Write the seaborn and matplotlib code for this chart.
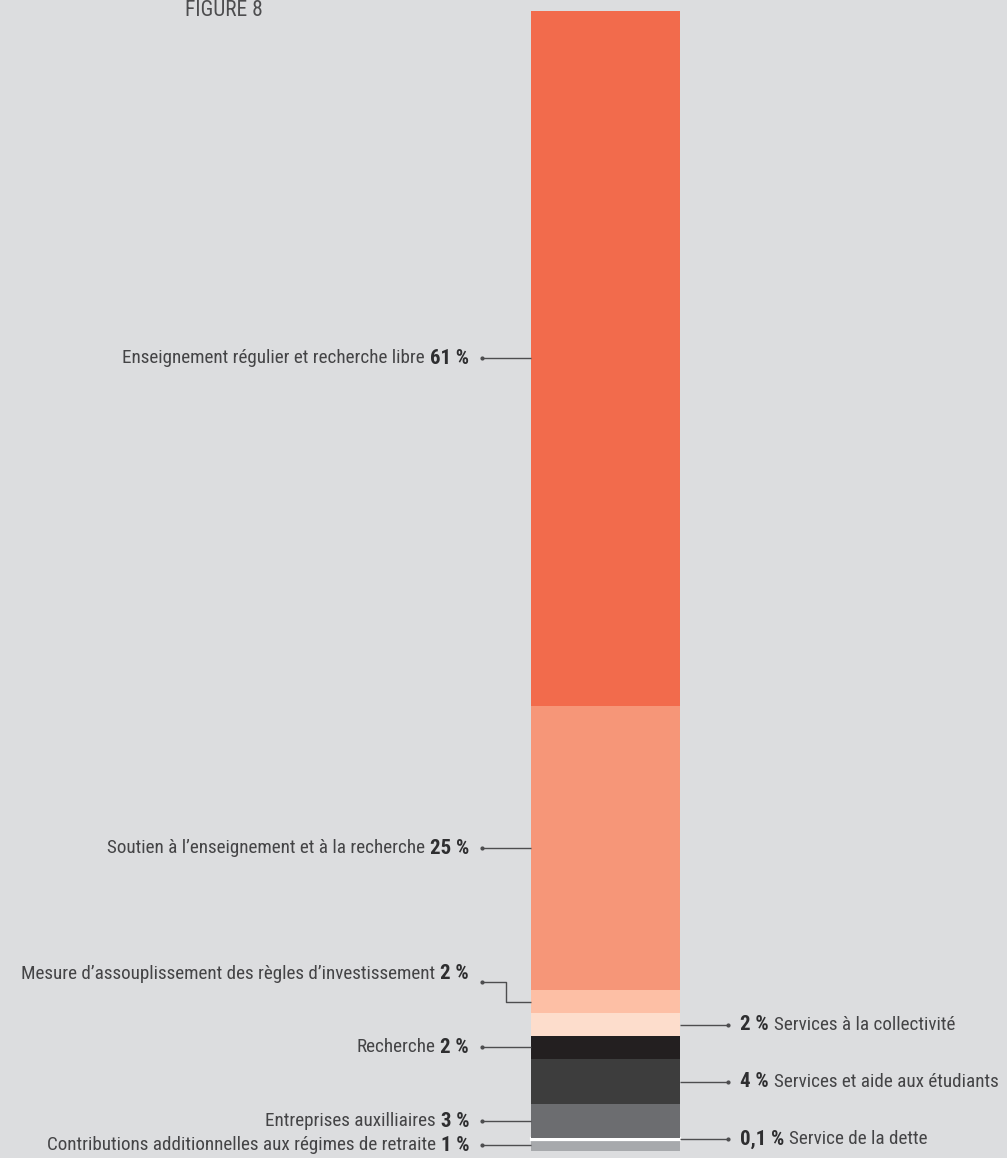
import numpy as np
import pandas as pd
import seaborn as sns
import matplotlib.pyplot as plt
from matplotlib import font_manager

# Segments of the stacked bar, listed from top to bottom
categories = [
    "Enseignement régulier et recherche libre",
    "Soutien à l\u2019enseignement et à la recherche",
    "Mesure d\u2019assouplissement des règles d\u2019investissement",
    "Services à la collectivité",
    "Recherche",
    "Services et aide aux étudiants",
    "Entreprises auxilliaires",
    "Service de la dette",
    "Contributions additionnelles aux régimes de retraite",
]
values = [61, 25, 2, 2, 2, 4, 3, 0.1, 1]
value_labels = ["61 %", "25 %", "2 %", "2 %", "2 %", "4 %", "3 %", "0,1 %", "1 %"]
sides = ["left", "left", "left", "right", "left", "right", "left", "right", "left"]
colors = ["#F26B4C", "#F69678", "#FDBFA5", "#FDDDCC", "#231F20",
          "#3D3D3D", "#6C6D70", "#FFFFFF", "#A7A9AC"]

BG = "#DCDDDF"
TXT = "#444446"
LINE = "#4D4D4F"

sns.set_theme(style="white")
avail = {f.name for f in font_manager.fontManager.ttflist}
fam = [f for f in ["Roboto Condensed", "Liberation Sans Narrow"] if f in avail] + ["DejaVu Sans"]
plt.rcParams["font.family"] = fam
STRETCH = "normal" if fam[0] != "DejaVu Sans" else "condensed"

W, H = 1007, 1158
fig = plt.figure(figsize=(W / 100, H / 100), dpi=100)
fig.patch.set_facecolor(BG)
ax = fig.add_axes([0, 0, 1, 1])
ax.set_facecolor(BG)

# Pixel layout of the bar
BAR_L, BAR_R, BAR_T, BAR_B = 531, 680, 11, 1151
total = float(np.sum(values))
ppu = (BAR_B - BAR_T) / total          # pixels per percent
bw = BAR_R - BAR_L


def px_x(px):
    return -0.5 + (px - BAR_L) / bw


def px_y(py):
    # py measured from the top edge of the figure
    return (BAR_B - py) / ppu


def y_px(v):
    return BAR_B - v * ppu


# Draw stacked bar from bottom to top
df = pd.DataFrame({"cat": categories, "val": values, "color": colors})
bottoms = np.cumsum(values[::-1]) - np.array(values[::-1])
df["bottom"] = bottoms[::-1]
for _, row in df.iloc[::-1].iterrows():
    if row["color"] == "#FFFFFF":
        kw = dict(edgecolor="#FFFFFF", linewidth=1.6)
    else:
        kw = dict(linewidth=0)
    sns.barplot(x=[0], y=[row["val"]], bottom=row["bottom"], color=row["color"],
                saturation=1, width=1.0, errorbar=None, ax=ax, **kw)

ax.set_xlim(px_x(0), px_x(W))
ax.set_ylim(px_y(H), px_y(0))
ax.set_axis_off()

fig.canvas.draw()
renderer = fig.canvas.get_renderer()

FS = 13.8
FS_B = 15.0


def leader(xs, ys, dot_end):
    ax.plot([px_x(x) for x in xs], [px_y(y) for y in ys], color=LINE, lw=1.0,
            solid_capstyle="butt", zorder=3)
    ax.plot([px_x(dot_end[0])], [px_y(dot_end[1])], marker="o", ms=2.0,
            color=LINE, zorder=4)


for i, row in df.iterrows():
    mid = y_px(row["bottom"] + row["val"] / 2)
    name, pct = row["cat"], value_labels[i]
    if sides[i] == "left":
        ly = mid
        if i == 2:
            ly = mid - 28
            elbow = mid - 20
            leader([482, 506, 506, BAR_L], [elbow, elbow, mid, mid], (482, elbow))
        else:
            leader([482, BAR_L], [mid, mid], (482, mid))
        tb = ax.text(px_x(469), px_y(ly), pct, ha="right", va="center",
                     fontsize=FS_B, fontweight="bold", color="#2E2E30",
                     fontstretch=STRETCH)
        bb = tb.get_window_extent(renderer)
        ax.text(px_x(bb.x0 - 5), px_y(ly), name, ha="right", va="center",
                fontsize=FS, color=TXT, fontstretch=STRETCH)
    else:
        leader([BAR_R, 728], [mid, mid], (728, mid))
        tb = ax.text(px_x(740), px_y(mid), pct, ha="left", va="center",
                     fontsize=FS_B, fontweight="bold", color="#2E2E30",
                     fontstretch=STRETCH)
        bb = tb.get_window_extent(renderer)
        ax.text(px_x(bb.x1 + 5), px_y(mid), name, ha="left", va="center",
                fontsize=FS, color=TXT, fontstretch=STRETCH)

ax.text(px_x(185), px_y(16), "FIGURE 8", ha="left", va="baseline",
        fontsize=15.5, color="#4D4D4F", fontstretch=STRETCH)

fig.savefig("out.png", dpi=100, facecolor=BG)
